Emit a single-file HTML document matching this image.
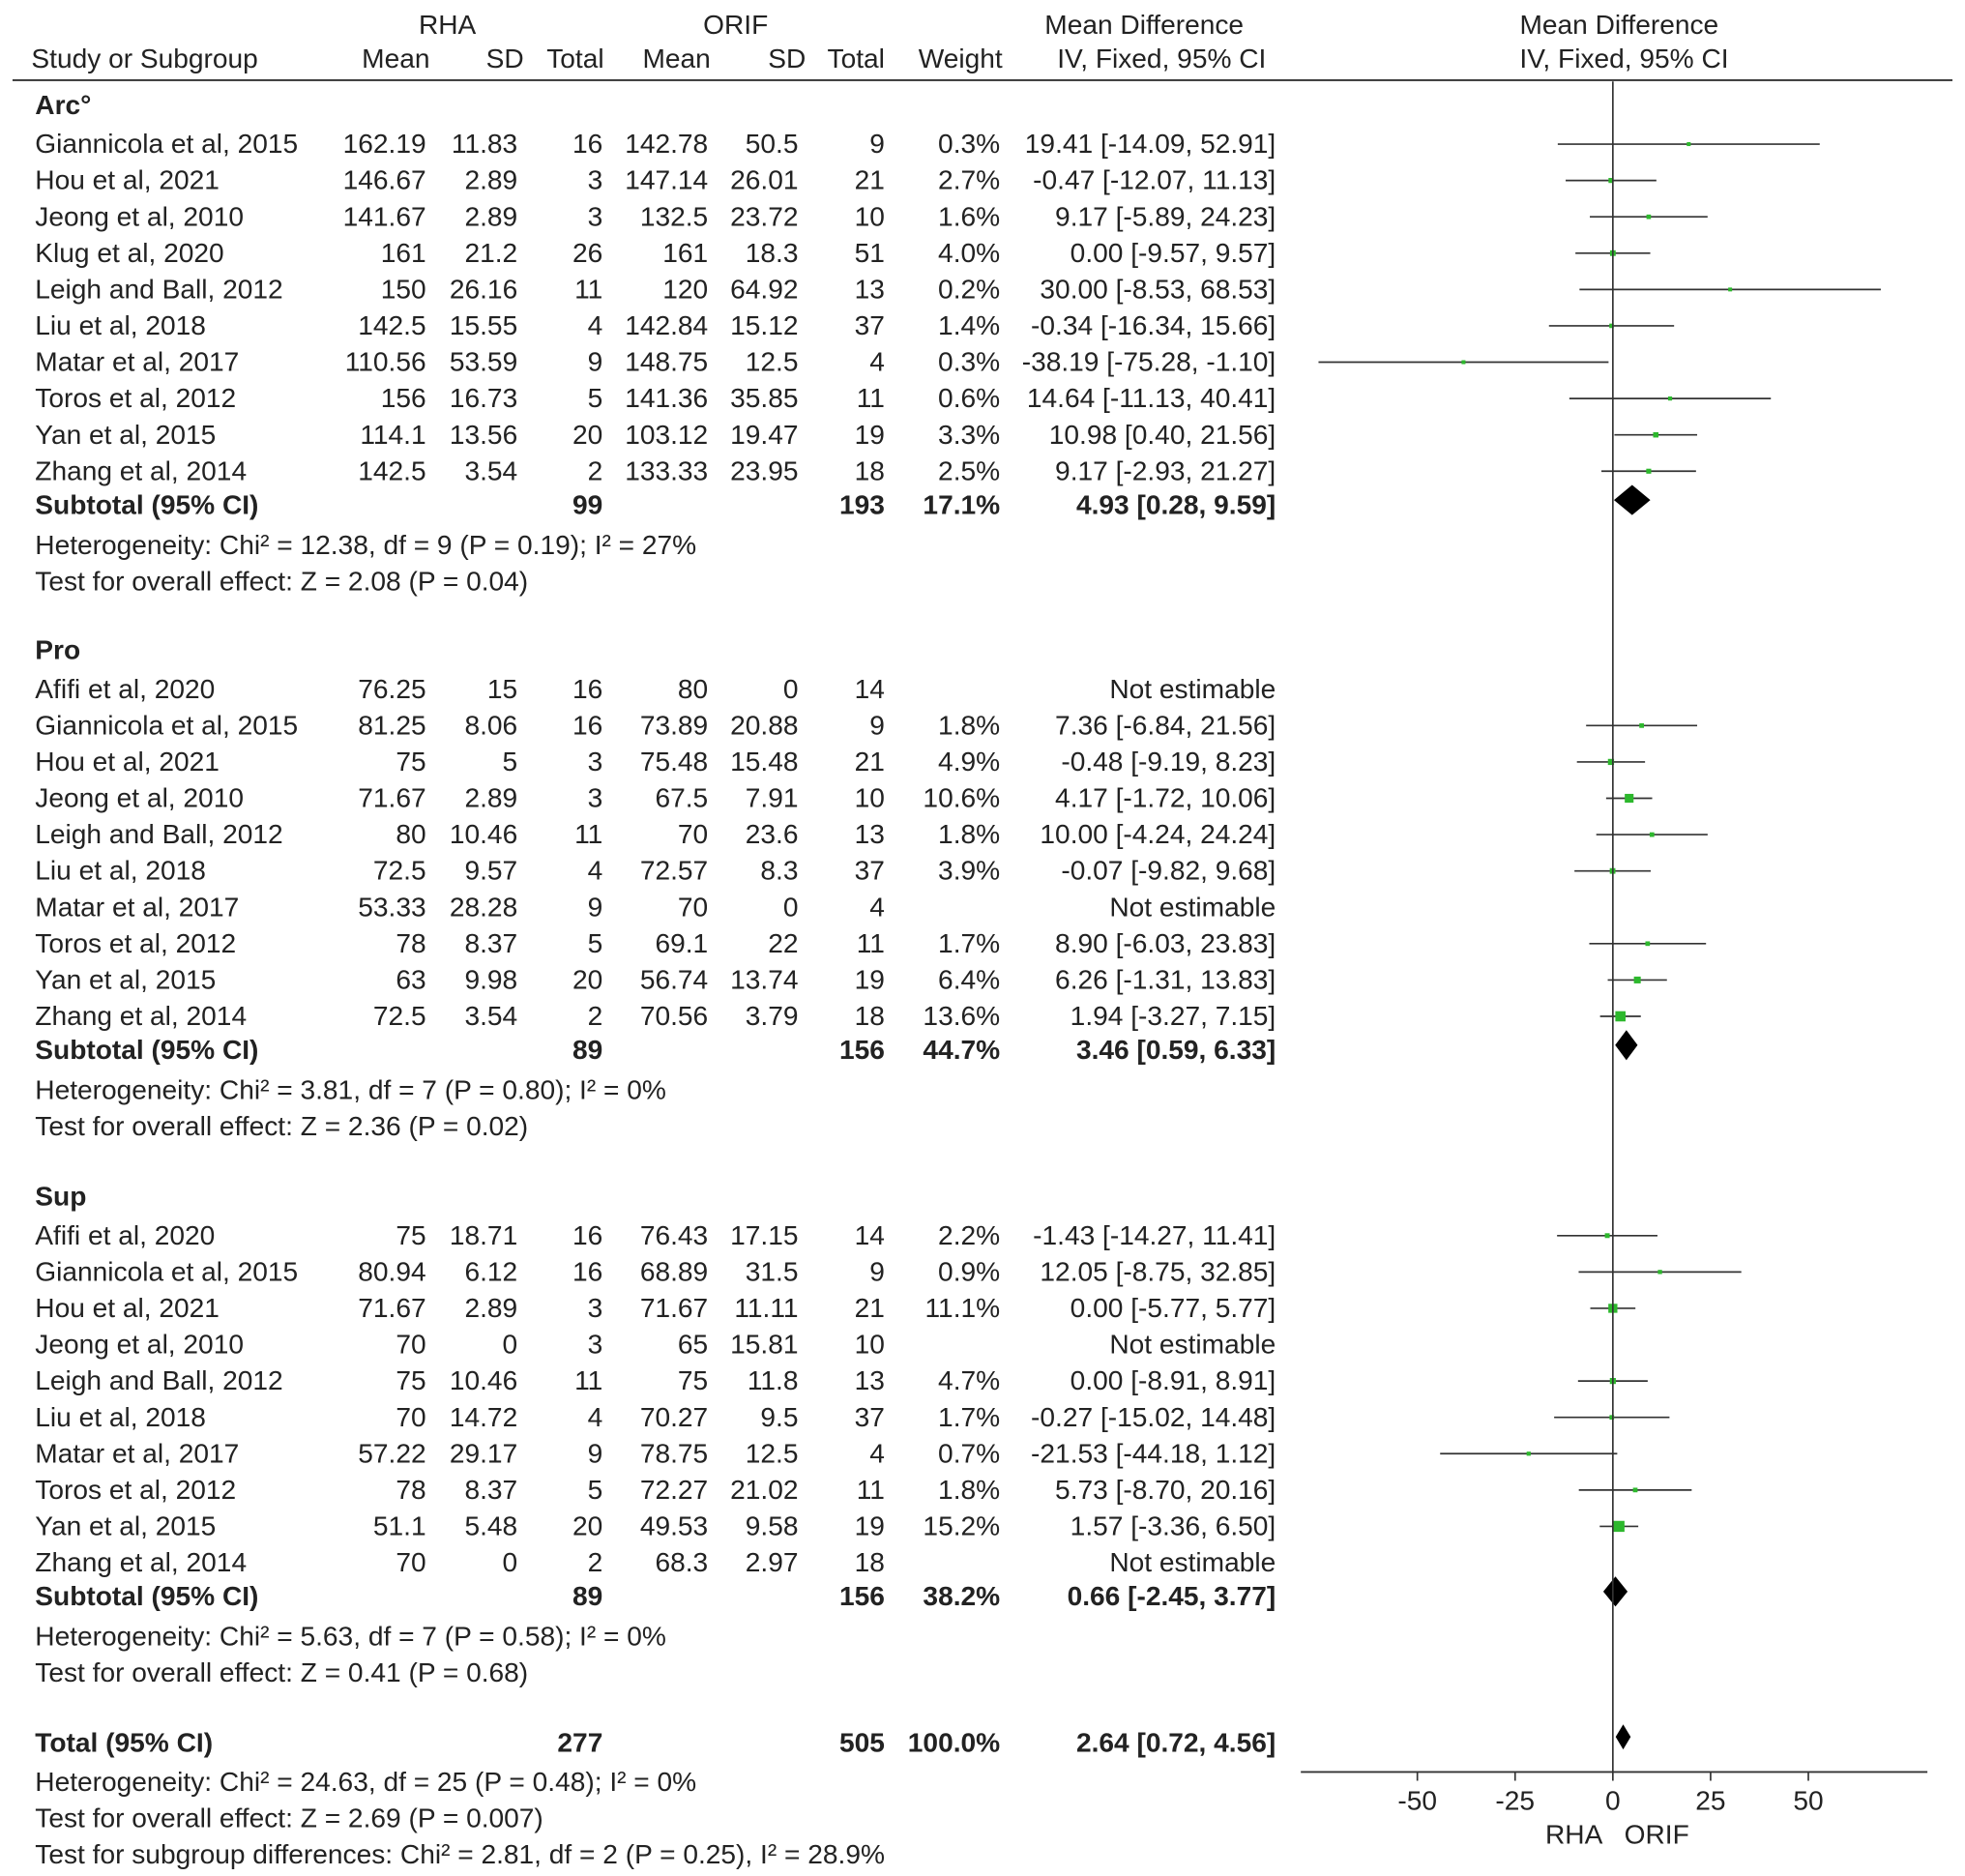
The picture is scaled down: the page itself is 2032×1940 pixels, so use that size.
<!DOCTYPE html>
<html><head><meta charset="utf-8"><style>
html,body{margin:0;padding:0;background:#fff;}
svg{display:block;}
text{font-family:"Liberation Sans",Arial,sans-serif;font-size:21.7px;fill:#222;}
.b{font-weight:bold;}
</style></head><body>
<svg id="chart" width="2032" height="1940" viewBox="0 0 1568 1497" xmlns="http://www.w3.org/2000/svg">
<g id="hdr">
<text x="357" y="27" text-anchor="middle">RHA</text>
<text x="587" y="27" text-anchor="middle">ORIF</text>
<text x="913" y="27" text-anchor="middle">Mean Difference</text>
<text x="1292" y="27" text-anchor="middle">Mean Difference</text>
<text x="25" y="54">Study or Subgroup</text>
<text x="343" y="54" text-anchor="end">Mean</text>
<text x="418" y="54" text-anchor="end">SD</text>
<text x="482" y="54" text-anchor="end">Total</text>
<text x="567" y="54" text-anchor="end">Mean</text>
<text x="643" y="54" text-anchor="end">SD</text>
<text x="706" y="54" text-anchor="end">Total</text>
<text x="800" y="54" text-anchor="end">Weight</text>
<text x="927" y="54" text-anchor="middle">IV, Fixed, 95% CI</text>
<text x="1296" y="54" text-anchor="middle">IV, Fixed, 95% CI</text>
<line x1="10" y1="64" x2="1558" y2="64" stroke="#333" stroke-width="1.5"/>
</g>
<g id="body"></g>
</svg>
<script>
const groupNames = ["Arc°", "Pro", "Sup"];
const studyNames = [
 ["Giannicola et al, 2015","Hou et al, 2021","Jeong et al, 2010","Klug et al, 2020","Leigh and Ball, 2012","Liu et al, 2018","Matar et al, 2017","Toros et al, 2012","Yan et al, 2015","Zhang et al, 2014"],
 ["Afifi et al, 2020","Giannicola et al, 2015","Hou et al, 2021","Jeong et al, 2010","Leigh and Ball, 2012","Liu et al, 2018","Matar et al, 2017","Toros et al, 2012","Yan et al, 2015","Zhang et al, 2014"],
 ["Afifi et al, 2020","Giannicola et al, 2015","Hou et al, 2021","Jeong et al, 2010","Leigh and Ball, 2012","Liu et al, 2018","Matar et al, 2017","Toros et al, 2012","Yan et al, 2015","Zhang et al, 2014"]
];
const rhaMean = [["162.19","146.67","141.67","161","150","142.5","110.56","156","114.1","142.5"],["76.25","81.25","75","71.67","80","72.5","53.33","78","63","72.5"],["75","80.94","71.67","70","75","70","57.22","78","51.1","70"]];
const rhaSD = [["11.83","2.89","2.89","21.2","26.16","15.55","53.59","16.73","13.56","3.54"],["15","8.06","5","2.89","10.46","9.57","28.28","8.37","9.98","3.54"],["18.71","6.12","2.89","0","10.46","14.72","29.17","8.37","5.48","0"]];
const rhaN = [[16,3,3,26,11,4,9,5,20,2],[16,16,3,3,11,4,9,5,20,2],[16,16,3,3,11,4,9,5,20,2]];
const orifMean = [["142.78","147.14","132.5","161","120","142.84","148.75","141.36","103.12","133.33"],["80","73.89","75.48","67.5","70","72.57","70","69.1","56.74","70.56"],["76.43","68.89","71.67","65","75","70.27","78.75","72.27","49.53","68.3"]];
const orifSD = [["50.5","26.01","23.72","18.3","64.92","15.12","12.5","35.85","19.47","23.95"],["0","20.88","15.48","7.91","23.6","8.3","0","22","13.74","3.79"],["17.15","31.5","11.11","15.81","11.8","9.5","12.5","21.02","9.58","2.97"]];
const orifN = [[9,21,10,51,13,37,4,11,19,18],[14,9,21,10,13,37,4,11,19,18],[14,9,21,10,13,37,4,11,19,18]];
const weights = [[0.3,2.7,1.6,4.0,0.2,1.4,0.3,0.6,3.3,2.5],[null,1.8,4.9,10.6,1.8,3.9,null,1.7,6.4,13.6],[2.2,0.9,11.1,null,4.7,1.7,0.7,1.8,15.2,null]];
const md = [[19.41,-0.47,9.17,0.00,30.00,-0.34,-38.19,14.64,10.98,9.17],[null,7.36,-0.48,4.17,10.00,-0.07,null,8.90,6.26,1.94],[-1.43,12.05,0.00,null,0.00,-0.27,-21.53,5.73,1.57,null]];
const ciLo = [[-14.09,-12.07,-5.89,-9.57,-8.53,-16.34,-75.28,-11.13,0.40,-2.93],[null,-6.84,-9.19,-1.72,-4.24,-9.82,null,-6.03,-1.31,-3.27],[-14.27,-8.75,-5.77,null,-8.91,-15.02,-44.18,-8.70,-3.36,null]];
const ciHi = [[52.91,11.13,24.23,9.57,68.53,15.66,-1.10,40.41,21.56,21.27],[null,21.56,8.23,10.06,24.24,9.68,null,23.83,13.83,7.15],[11.41,32.85,5.77,null,8.91,14.48,1.12,20.16,6.50,null]];
const subN = [[99,193],[89,156],[89,156]];
const subWeight = ["17.1%","44.7%","38.2%"];
const subMD = [4.93,3.46,0.66];
const subLo = [0.28,0.59,-2.45];
const subHi = [9.59,6.33,3.77];
const hetText = ["Heterogeneity: Chi² = 12.38, df = 9 (P = 0.19); I² = 27%","Heterogeneity: Chi² = 3.81, df = 7 (P = 0.80); I² = 0%","Heterogeneity: Chi² = 5.63, df = 7 (P = 0.58); I² = 0%"];
const testText = ["Test for overall effect: Z = 2.08 (P = 0.04)","Test for overall effect: Z = 2.36 (P = 0.02)","Test for overall effect: Z = 0.41 (P = 0.68)"];
const totalVals = [277,505,"100.0%",2.64,0.72,4.56];
const footText = ["Heterogeneity: Chi² = 24.63, df = 25 (P = 0.48); I² = 0%","Test for overall effect: Z = 2.69 (P = 0.007)","Test for subgroup differences: Chi² = 2.81, df = 2 (P = 0.25), I² = 28.9%"];
const ticks = [-50,-25,0,25,50];

const NS="http://www.w3.org/2000/svg";
const body=document.getElementById('body');
const X0=1287, PX=3.12;
const xs=v=>X0+v*PX;
function el(tag,attrs,parent,txt){const e=document.createElementNS(NS,tag);for(const k in attrs)e.setAttribute(k,attrs[k]);if(txt!==undefined)e.textContent=txt;(parent||body).appendChild(e);return e;}
function t(x,y,s,anchor,cls,name){const e=el('text',{x:x,y:y,'text-anchor':anchor||'start'},body,s);if(cls)e.setAttribute('class',cls);


return e;}
const f2=v=>v.toFixed(2);
const ciStr=(m,l,h)=>f2(m)+" ["+f2(l)+", "+f2(h)+"]";
function diamond(m,l,h,y,hh,name){const p=el('polygon',{points:`${xs(l)},${y} ${xs(m)},${y-hh/2} ${xs(h)},${y} ${xs(m)},${y+hh/2}`,fill:'#000'});

}

const groupTop=[84,519,955];
for(let g=0;g<3;g++){
  const gy=groupTop[g];
  t(28,gy+7,groupNames[g],'start','b','group-header');
  for(let i=0;i<10;i++){
    const y=gy+31+i*29, by=y+7;
    t(28,by,studyNames[g][i],'start',null,'study-name');
    t(340,by,rhaMean[g][i],'end',null,'rha-mean');
    t(413,by,rhaSD[g][i],'end',null,'rha-sd');
    t(481,by,String(rhaN[g][i]),'end',null,'rha-total');
    t(565,by,orifMean[g][i],'end',null,'orif-mean');
    t(637,by,orifSD[g][i],'end',null,'orif-sd');
    t(706,by,String(orifN[g][i]),'end',null,'orif-total');
    if(weights[g][i]!==null){
      t(798,by,weights[g][i].toFixed(1)+"%",'end',null,'weight');
      t(1018,by,ciStr(md[g][i],ciLo[g][i],ciHi[g][i]),'end',null,'mean-difference-ci');
      const ln=el('line',{x1:xs(ciLo[g][i]),x2:xs(ciHi[g][i]),y1:y,y2:y,stroke:'#333','stroke-width':1.3});
      
      
      const s=3+weights[g][i]*0.38;
      const r=el('rect',{x:xs(md[g][i])-s/2,y:y-s/2,width:s,height:s,fill:'#2db82d'});
      
      
    } else {
      t(1018,by,"Not estimable",'end',null,'not-estimable');
    }
  }
  const sy=gy+319, sb=sy+7;
  t(28,sb,"Subtotal (95% CI)",'start','b','subtotal-label');
  t(481,sb,String(subN[g][0]),'end','b','subtotal-rha');
  t(706,sb,String(subN[g][1]),'end','b','subtotal-orif');
  t(798,sb,subWeight[g],'end','b','subtotal-weight');
  t(1018,sb,ciStr(subMD[g],subLo[g],subHi[g]),'end','b','subtotal-ci');
  diamond(subMD[g],subLo[g],subHi[g],sy-4,24,'subtotal-diamond');
  t(28,gy+358,hetText[g],'start',null,'heterogeneity');
  t(28,gy+387,testText[g],'start',null,'overall-effect');
}
t(28,1398,"Total (95% CI)",'start','b','total-label');
t(481,1398,String(totalVals[0]),'end','b','total-rha');
t(706,1398,String(totalVals[1]),'end','b','total-orif');
t(798,1398,totalVals[2],'end','b','total-weight');
t(1018,1398,ciStr(totalVals[3],totalVals[4],totalVals[5]),'end','b','total-ci');
diamond(totalVals[3],totalVals[4],totalVals[5],1386,20,'total-diamond');
footText.forEach((s,i)=>t(28,1429+i*29,s,'start',null,'footer-stat'));

const v=el('line',{x1:X0,x2:X0,y1:65,y2:1414,stroke:'#333','stroke-width':1.3});


const ax=el('line',{x1:1038,x2:1538,y1:1414,y2:1414,stroke:'#333','stroke-width':1.5});


ticks.forEach(v=>{
  const tk=el('line',{x1:xs(v),x2:xs(v),y1:1414,y2:1421,stroke:'#333','stroke-width':1.3});
  
  
  t(xs(v),1444,String(v),'middle',null,'x-tick-label');
});
t(1256,1471,"RHA",'middle',null,'favours-rha');
t(1322,1471,"ORIF",'middle',null,'favours-orif');
</script>
</body></html>
